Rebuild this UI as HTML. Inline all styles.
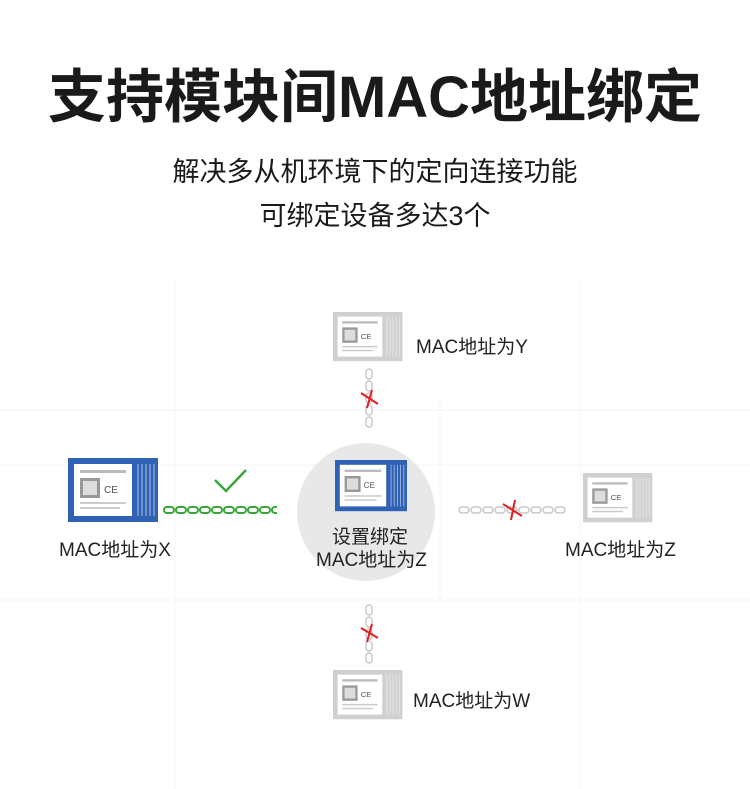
<!DOCTYPE html>
<html><head><meta charset="utf-8"><style>
body{margin:0;width:750px;height:789px;background:#fff;position:relative;overflow:hidden;font-family:"Liberation Sans","Noto Sans CJK SC",sans-serif;color:#1a1a1a}
.t{position:absolute;left:0;width:750px;text-align:center}
.l{position:absolute;font-size:19px;color:#222;white-space:nowrap}
</style></head><body>
<div class="t" style="top:50px;font-size:58px;font-weight:bold;letter-spacing:0px">支持模块间MAC地址绑定</div>
<div class="t" style="top:150px;font-size:27px">解决多从机环境下的定向连接功能</div>
<div class="t" style="top:194px;font-size:27px">可绑定设备多达3个</div>
<svg width="750" height="789" style="position:absolute;left:0;top:0" xmlns="http://www.w3.org/2000/svg">
<defs>
<g id="mod">
<rect x="0" y="0" width="90" height="64" fill="currentColor"/>
<rect x="6" y="6" width="58" height="52" fill="#fff"/>
<g stroke="#fff" stroke-width="1" opacity="0.6"><line x1="70" y1="6" x2="70" y2="58"/><line x1="74" y1="6" x2="74" y2="58"/><line x1="78" y1="6" x2="78" y2="58"/><line x1="82" y1="6" x2="82" y2="58"/><line x1="86" y1="6" x2="86" y2="58"/></g>
<rect x="12" y="20" width="20" height="20" fill="#999"/>
<rect x="15" y="23" width="14" height="14" fill="#ddd"/>
<text x="36" y="35" font-size="10" fill="#555" font-family="Liberation Sans">CE</text>
<rect x="12" y="12" width="46" height="3" fill="#bbb"/>
<rect x="12" y="44" width="46" height="2" fill="#ccc"/><rect x="12" y="49" width="40" height="2" fill="#ccc"/>
</g>
<pattern id="chg" x="163" y="506" width="12" height="8" patternUnits="userSpaceOnUse"><rect x="1" y="1" width="10" height="6" rx="3" fill="none" stroke="#3aa63a" stroke-width="2"/></pattern>
<pattern id="chr" x="458" y="506" width="12" height="8" patternUnits="userSpaceOnUse"><rect x="1" y="1" width="10" height="6" rx="3" fill="none" stroke="#c8c8c8" stroke-width="1.5"/></pattern>
<pattern id="chv" x="365" y="368" width="8" height="12" patternUnits="userSpaceOnUse"><rect x="1" y="1" width="6" height="10" rx="3" fill="none" stroke="#c8c8c8" stroke-width="1.5"/></pattern>
</defs>
<g stroke="#f5f5f5" stroke-width="1">
<line x1="0" y1="410" x2="750" y2="410"/><line x1="0" y1="465" x2="750" y2="465"/><line x1="0" y1="600" x2="750" y2="600"/>
<line x1="175" y1="280" x2="175" y2="789"/><line x1="580" y1="280" x2="580" y2="789"/><line x1="440" y1="400" x2="440" y2="600"/>
</g>
<circle cx="366" cy="512" r="69" fill="#e8e8e8"/>
<g transform="translate(68,458)" style="color:#2f62b4"><use href="#mod"/></g>
<g transform="translate(335,460) scale(0.8)" style="color:#2f62b4"><use href="#mod"/></g>
<g transform="translate(333,312) scale(0.77)" style="color:#d0d0d0"><use href="#mod"/></g>
<g transform="translate(583,473) scale(0.77)" style="color:#d0d0d0"><use href="#mod"/></g>
<g transform="translate(333,670) scale(0.77)" style="color:#d0d0d0"><use href="#mod"/></g>
<rect x="163" y="506" width="114" height="8" fill="url(#chg)"/>
<rect x="458" y="506" width="108" height="8" fill="url(#chr)"/>
<rect x="365" y="368" width="8" height="60" fill="url(#chv)"/>
<g transform="translate(0,236)"><rect x="365" y="368" width="8" height="60" fill="url(#chv)"/></g>
<polyline points="215,480 226,491 246,470" fill="none" stroke="#3aa63a" stroke-width="2.5"/>
<g stroke="#e02020" stroke-width="2"><line x1="361" y1="393" x2="378" y2="404"/><line x1="372" y1="390" x2="367" y2="408"/>
<line x1="361" y1="628" x2="378" y2="638"/><line x1="372" y1="624" x2="367" y2="642"/>
<line x1="503" y1="504" x2="522" y2="516"/><line x1="515" y1="500" x2="511" y2="520"/></g>
</svg>
<div class="l" style="left:416px;top:332px">MAC地址为Y</div>
<div class="l" style="left:59px;top:535px">MAC地址为X</div>
<div class="l" style="left:332px;top:522px">设置绑定</div>
<div class="l" style="left:316px;top:545px">MAC地址为Z</div>
<div class="l" style="left:565px;top:535px">MAC地址为Z</div>
<div class="l" style="left:413px;top:686px">MAC地址为W</div>
</body></html>
